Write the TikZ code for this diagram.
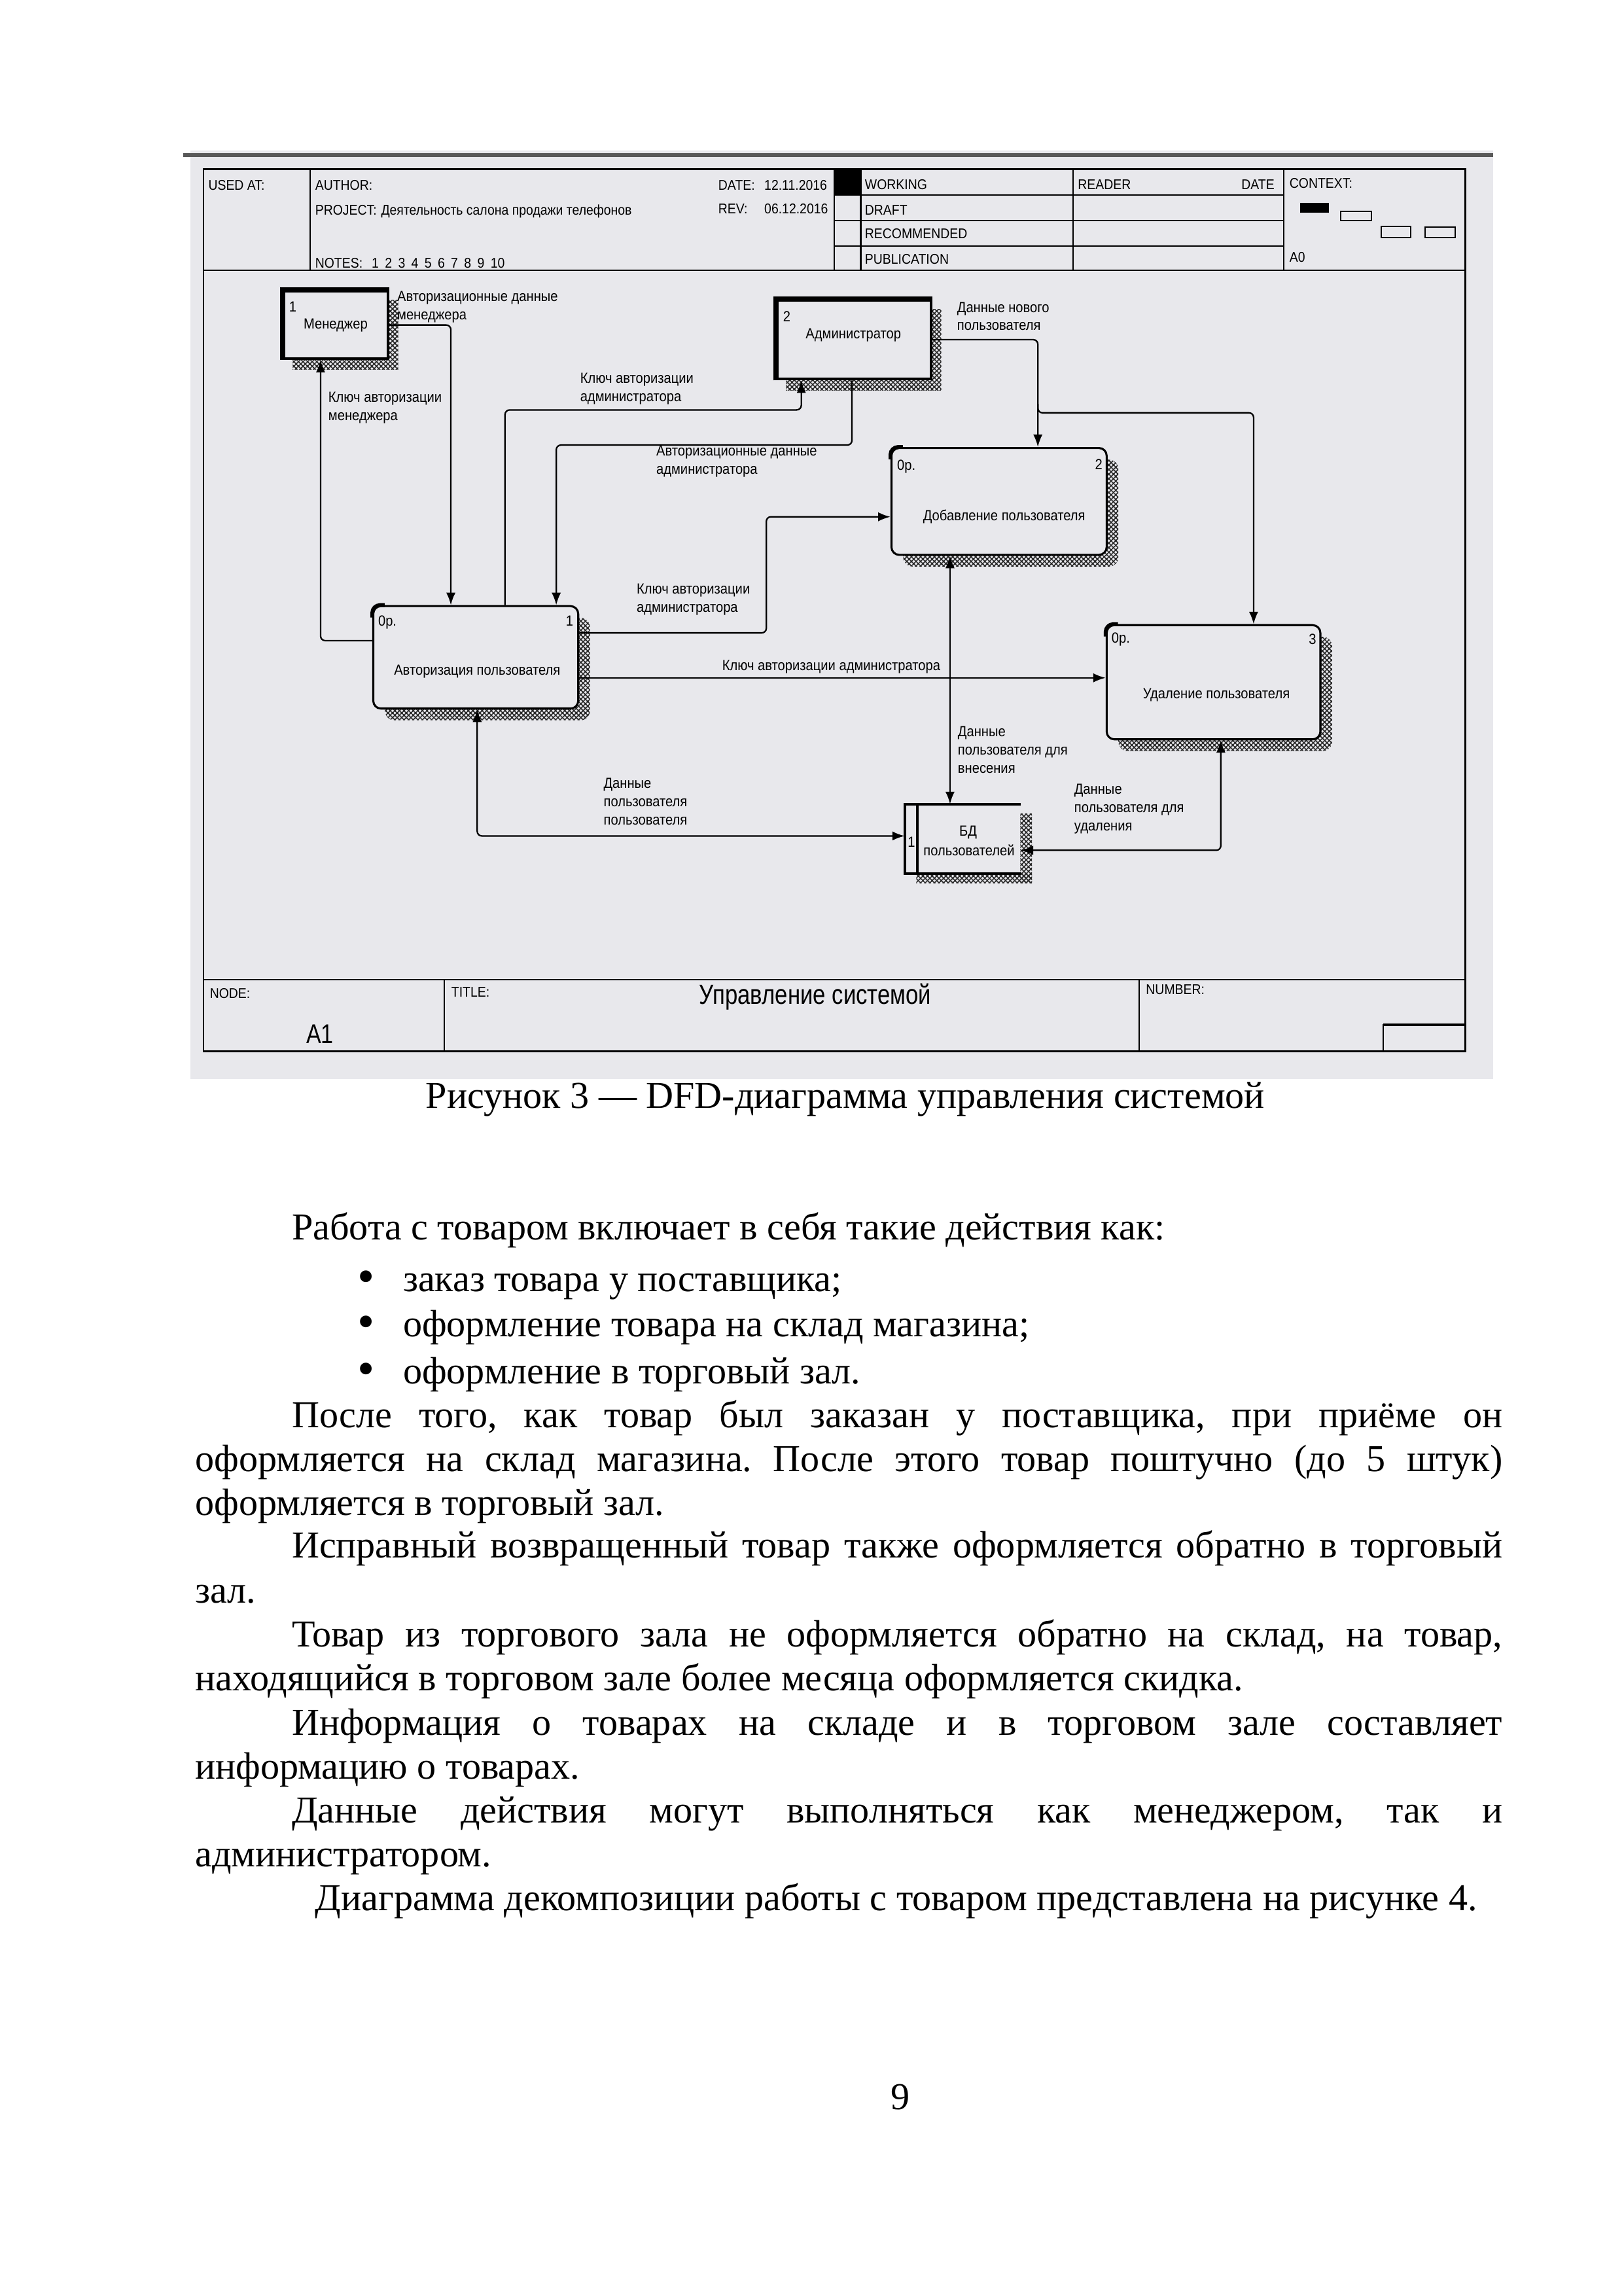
\documentclass[tikz,border=0pt]{standalone}
\usepackage{fontspec}
\setmainfont{Liberation Serif}
\newfontfamily\dfdfont[FakeStretch=0.9]{Liberation Sans}
\newfontfamily\dfdtitle[FakeStretch=0.82]{Liberation Sans}
\usetikzlibrary{arrows.meta,patterns.meta,fit}

\definecolor{panel}{RGB}{232,232,236}

\tikzset{
  flow/.style={line width=0.55pt, rounded corners=0.6mm},
  shadowpat/.style={pattern={Hatch[distance=0.42mm, angle=45, line width=0.13mm]}, pattern color=black!85},
  procbox/.style={draw, line width=0.75pt, rounded corners=1mm, fill=panel, inner sep=0pt},
  entbox/.style={draw, line width=0.35mm, fill=panel, inner sep=0pt},
  corner/.style={line width=1.4pt, rounded corners=1mm},
  tiny/.style={font=\dfdfont\fontsize{5.4}{6.7}\selectfont, inner sep=0pt},
  lbl/.style={tiny, anchor=north west, align=left},
  hdr/.style={font=\dfdfont\fontsize{5.2}{6}\selectfont, inner sep=0pt, anchor=base west},
  gridline/.style={line width=0.5pt},
  body/.style={font=\fontsize{14}{16.1}\selectfont, inner sep=0pt, anchor=base west},
  bullet/.style={font=\fontsize{18}{20}\selectfont, inner sep=0pt, anchor=base},
}

\begin{document}
\frenchspacing
\begin{tikzpicture}[x=0.189357mm, y=-0.189357mm, >={Latex[length=1.6mm,width=1.2mm]}]
\useasboundingbox (0,0) rectangle (1109,1567.6);
\fill[white] (0,0) rectangle (1109,1567.6);

% ---------- screenshot panel with the IDEF form ----------
\fill[panel] (130,103) rectangle (1020,737);
\draw[black!65, line width=0.5mm] (125,106) -- (1020,106);

% form frame
\draw[line width=0.6pt] (139,115.5) rectangle (1001,718);

% header block
\draw[gridline] (139,184.5) -- (1001,184.5);
\foreach \xx in {211.8,570,588,733,877}
  \draw[gridline] (\xx,115.5) -- (\xx,184.5);
\foreach \yy in {133.4,150.5,168}
  \draw[gridline] (570,\yy) -- (877,\yy);
\fill (570,115.5) rectangle (588,133.4);

\node[hdr] (usedat) at (142,130) {USED AT:};
\node[hdr] (author) at (215,130) {AUTHOR:};
\node[hdr] (project) at (215,147) {PROJECT:};
\node[hdr] (projname) at (260,147) {Деятельность салона продажи телефонов};
\node[hdr] (notes) at (215,183) {NOTES:};
\node[hdr] (notenums) at (253.6,183) {\makebox[17.2mm][s]{1 2 3 4 5 6 7 8 9 10}};
\node[hdr] (date) at (490.4,130) {DATE:};
\node[hdr] (dateval) at (521.8,130) {12.11.2016};
\node[hdr] (rev) at (490.4,146) {REV:};
\node[hdr] (revval) at (521.8,146) {06.12.2016};
\node[hdr] (working) at (590.5,129.5) {WORKING};
\node[hdr] (draft) at (590.5,147) {DRAFT};
\node[hdr] (recom) at (590.5,163) {RECOMMENDED};
\node[hdr] (public) at (590.5,180.5) {PUBLICATION};
\node[hdr] (reader) at (736,129.5) {READER};
\node[hdr, anchor=base east] (rdate) at (871,129.5) {DATE};
\node[hdr] (context) at (880.6,128.5) {CONTEXT:};
\node[hdr] (azero) at (880.6,179) {A0};

% context thumbnail
\fill (888,138.6) rectangle (908,145.3);
\draw[line width=0.5pt] (916,144.5) rectangle (937,150.6);
\draw[line width=0.5pt] (943.5,154.7) rectangle (963.6,162.4);
\draw[line width=0.5pt] (973.4,155) rectangle (994.2,162.4);

% footer block
\draw[gridline] (139,669) -- (1001,669);
\draw[gridline] (303.5,669) -- (303.5,718);
\draw[gridline] (778,669) -- (778,718);
\draw[gridline] (945,718) -- (945,700) -- (1001,700);
\draw[line width=1pt] (945,700) -- (1001,700);

\node[hdr] (nodelbl) at (143,682) {NODE:};
\node[hdr] (titlelbl) at (308,681) {TITLE:};
\node[hdr] (numberlbl) at (782.5,679) {NUMBER:};
\node[font=\dfdtitle\fontsize{10.2}{12}\selectfont, inner sep=0pt] (title) at (557,681) {Управление системой};
\node[font=\dfdtitle\fontsize{10}{12}\selectfont, inner sep=0pt] (nodeid) at (218.6,706.3) {A1};

% ---------- external entities ----------
\fill[shadowpat] (200,205) rectangle (272,252.5);
\node[entbox, fit={(193,198) (265,245)}] (m) {};
\draw[line width=0.7mm] ([xshift=0.2mm]m.south west) -- ([xshift=0.2mm,yshift=-0.2mm]m.north west) -- ([yshift=-0.2mm]m.north east);
\node[tiny] (mnum) at (200,209.5) {1};
\node[tiny] (mname) at (229.3,222) {Менеджер};

\fill[shadowpat] (537,211) rectangle (643,266.5);
\node[entbox, fit={(530,204) (636,259)}] (adm) {};
\draw[line width=0.7mm] ([xshift=0.2mm]adm.south west) -- ([xshift=0.2mm,yshift=-0.2mm]adm.north west) -- ([yshift=-0.2mm]adm.north east);
\node[tiny] (admnum) at (537.5,216) {2};
\node[tiny] (admname) at (583,229) {Администратор};

% ---------- processes ----------
\fill[shadowpat, rounded corners=1.2mm] (263,422) rectangle (403,492);
\node[procbox, fit={(255,414) (395,484)}] (p1) {};
\draw[corner] ([yshift=-1.6mm]p1.north west) -- (p1.north west) -- ([xshift=1.6mm]p1.north west);
\node[tiny, anchor=west] (p1op) at (258,425) {0p.};
\node[tiny, anchor=east] (p1num) at (392,424) {1};
\node[tiny] (p1name) at (326,458.5) {Авторизация пользователя};

\fill[shadowpat, rounded corners=1.2mm] (617,314) rectangle (764,387);
\node[procbox, fit={(609,306) (756,379)}] (p2) {};
\draw[corner] ([yshift=-1.6mm]p2.north west) -- (p2.north west) -- ([xshift=1.6mm]p2.north west);
\node[tiny, anchor=west] (p2op) at (612.5,318.5) {0p.};
\node[tiny, anchor=east] (p2num) at (753.5,317) {2};
\node[tiny] (p2name) at (686,352.7) {Добавление пользователя};

\fill[shadowpat, rounded corners=1.2mm] (764,435) rectangle (910,513);
\node[procbox, fit={(756,427) (902,505)}] (p3) {};
\draw[corner] ([yshift=-1.6mm]p3.north west) -- (p3.north west) -- ([xshift=1.6mm]p3.north west);
\node[tiny, anchor=west] (p3op) at (759,436.5) {0p.};
\node[tiny, anchor=east] (p3num) at (899.5,436.7) {3};
\node[tiny] (p3name) at (831,474.8) {Удаление пользователя};

% ---------- data store ----------
\fill[shadowpat] (697,556) rectangle (705,603);
\fill[shadowpat] (626,596.4) rectangle (705,603);
\node[fit={(618.4,549.6) (697,596.4)}, inner sep=0pt, fill=panel] (db) {};
\draw[line width=0.9pt] (db.north east) -- (db.north west) -- (db.south west) -- (db.south east);
\coordinate (dbi) at (626.7,549.6);
\draw[line width=0.8pt] (dbi) -- (dbi |- db.south);
\node[tiny] (dbnum) at (622.6,575) {1};
\node[tiny] (dbname1) at (661.4,568.8) {БД};
\node[tiny] (dbname2) at (662,580.9) {пользователей};

% ---------- data flows ----------
\coordinate (k1) at (308,222);
\draw[flow,->] (m.east |- k1) -- (k1) -- (p1.north -| k1);

\coordinate (k2) at (219,437.6);
\draw[flow,->] (p1.west |- k2) -- (k2) -- (m.south -| k2);

\coordinate (k3a) at (345,280);
\coordinate (k3b) at (547.4,280);
\draw[flow,->] (p1.north -| k3a) -- (k3a) -- (k3b) -- (adm.south -| k3b);

\coordinate (k4a) at (582,304);
\coordinate (k4b) at (380,304);
\draw[flow,->] (adm.south -| k4a) -- (k4a) -- (k4b) -- (p1.north -| k4b);

\coordinate (k5a) at (523.5,432.3);
\coordinate (k5b) at (523.5,353);
\draw[flow,->] (p1.east |- k5a) -- (k5a) -- (k5b) -- (p2.west |- k5b);

\coordinate (k6) at (600,463);
\draw[flow,->] (p1.east |- k6) -- (p3.west |- k6);

\coordinate (k7) at (709,232);
\draw[flow,->] (adm.east |- k7) -- (k7) -- (p2.north -| k7);

\coordinate (k8s) at (709,276);
\coordinate (k8a) at (709,282);
\coordinate (k8b) at (856.4,282);
\draw[flow,->] (k8s) -- (k8a) -- (k8b) -- (p3.north -| k8b);

\coordinate (k9) at (649,450);
\draw[flow,<->] (p2.south -| k9) -- (db.north -| k9);

\coordinate (k10) at (834,580.8);
\draw[flow,<->] (db.east |- k10) -- (k10) -- (p3.south -| k10);

\coordinate (k11) at (326,571);
\draw[flow,<->] (p1.south -| k11) -- (k11) -- (db.west |- k11);

% ---------- flow labels ----------
\node[lbl] (l1) at (271,198.5) {Авторизационные данные\\менеджера};
\node[lbl] (l2) at (224,267.5) {Ключ авторизации\\менеджера};
\node[lbl] (l3) at (396,254.5) {Ключ авторизации\\администратора};
\node[lbl] (l4) at (448,304) {Авторизационные данные\\администратора};
\node[lbl] (l5) at (434.6,398.4) {Ключ авторизации\\администратора};
\node[lbl] (l6) at (493,450.7) {Ключ авторизации администратора};
\node[lbl] (l7) at (653.5,206) {Данные нового\\пользователя};
\node[lbl] (l8) at (654,495.8) {Данные\\пользователя для\\внесения};
\node[lbl] (l9) at (733.5,535.3) {Данные\\пользователя для\\удаления};
\node[lbl] (l10) at (412,531.1) {Данные\\пользователя\\пользователя};

% ---------- caption and page text ----------
\node[font=\fontsize{14}{16.1}\selectfont, inner sep=0pt, anchor=base] (caption) at (577.5,757) {Рисунок 3 — DFD-диаграмма управления системой};

\node[body] (b1) at (199,847) {Работа с товаром включает в себя такие действия как:};
\node[bullet] (u1) at (250,883) {•};
\node[body] (b2) at (275,882) {заказ товара у поставщика;};
\node[bullet] (u2) at (250,914) {•};
\node[body] (b3) at (275,913) {оформление товара на склад магазина;};
\node[bullet] (u3) at (250,946) {•};
\node[body] (b4) at (275,945) {оформление в торговый зал.};
\node[body] (b5) at (199,975) {\makebox[156.6mm][s]{После того, как товар был заказан у поставщика, при приёме он}};
\node[body] (b6) at (133,1005) {\makebox[169.1mm][s]{оформляется на склад магазина. После этого товар поштучно (до 5 штук)}};
\node[body] (b7) at (133,1035) {оформляется в торговый зал.};
\node[body] (b8) at (199,1064) {\makebox[156.6mm][s]{Исправный возвращенный товар также оформляется обратно в торговый}};
\node[body] (b9) at (133,1095) {зал.};
\node[body] (b10) at (199,1125) {\makebox[156.6mm][s]{Товар из торгового зала не оформляется обратно на склад, на товар,}};
\node[body] (b11) at (133,1155) {находящийся в торговом зале более месяца оформляется скидка.};
\node[body] (b12) at (199,1185) {\makebox[156.6mm][s]{Информация о товарах на складе и в торговом зале составляет}};
\node[body] (b13) at (133,1215) {информацию о товарах.};
\node[body] (b14) at (199,1245) {\makebox[156.6mm][s]{Данные действия могут выполняться как менеджером, так и}};
\node[body] (b15) at (133,1275) {администратором.};
\node[body] (b16) at (215,1305) {Диаграмма декомпозиции работы с товаром представлена на рисунке 4.};

\node[font=\fontsize{14}{16.1}\selectfont, inner sep=0pt, anchor=base] (pagenum) at (615,1441) {9};
\end{tikzpicture}
\end{document}
